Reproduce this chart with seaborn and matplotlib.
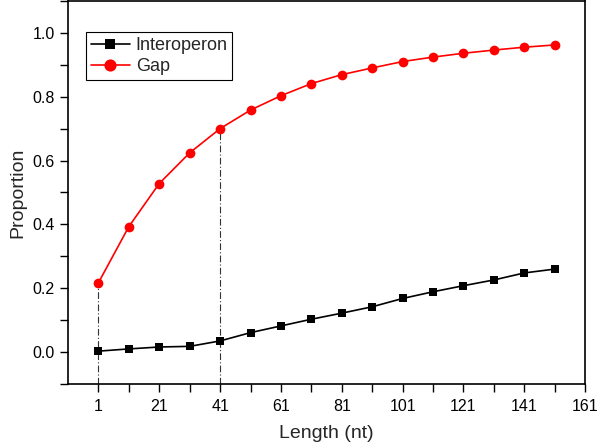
import numpy as np
import pandas as pd
import seaborn as sns
import matplotlib.pyplot as plt
from matplotlib.ticker import MultipleLocator, FixedLocator

length = [1, 11, 21, 31, 41, 51, 61, 71, 81, 91, 101, 111, 121, 131, 141, 151]
interoperon = [0.003, 0.010, 0.016, 0.018, 0.035, 0.061, 0.082, 0.103, 0.122,
               0.142, 0.168, 0.189, 0.208, 0.226, 0.248, 0.260]
gap = [0.217, 0.393, 0.528, 0.624, 0.700, 0.758, 0.803, 0.841, 0.869,
       0.890, 0.910, 0.924, 0.936, 0.946, 0.955, 0.962]
guide_x = [1, 41]
guide_top = [gap[0], gap[4]]

sns.set_style("ticks")
plt.rcParams['font.family'] = ['Liberation Sans', 'DejaVu Sans']

df_int = pd.DataFrame({'Length': length, 'Proportion': interoperon})
df_gap = pd.DataFrame({'Length': length, 'Proportion': gap})

fig = plt.figure(figsize=(6, 4.45), dpi=100)
ax = fig.add_axes([0.1133, 0.137, 0.862, 0.861])

ymin = -0.1
ax.vlines(guide_x, ymin, guide_top, colors='#333333', linestyles=(0, (6, 2, 1, 2)),
          linewidth=0.8, zorder=1)

sns.lineplot(data=df_int, x='Length', y='Proportion', ax=ax, color='black',
             marker='s', markersize=6, markeredgewidth=0, linewidth=1.2,
             label='Interoperon', zorder=3)
sns.lineplot(data=df_gap, x='Length', y='Proportion', ax=ax, color='#ff0000',
             marker='o', markersize=7, markeredgewidth=0, linewidth=1.2,
             label='Gap', zorder=3)

ax.set_xlim(-9, 161)
ax.set_ylim(ymin, 1.1)
ax.xaxis.set_major_locator(FixedLocator(list(range(1, 162, 20))))
ax.xaxis.set_minor_locator(FixedLocator(list(range(11, 162, 20))))
ax.yaxis.set_major_locator(MultipleLocator(0.2))
ax.yaxis.set_minor_locator(MultipleLocator(0.1))
ax.yaxis.set_major_formatter(plt.FuncFormatter(lambda v, p: f"{v:.1f}"))
ax.tick_params(which='both', direction='out', length=6, width=1, colors='black',
               labelsize=11.5)
ax.tick_params(axis='x', which='major', pad=5)
for s in ax.spines.values():
    s.set_color('black')
    s.set_linewidth(1.2)

ax.set_xlabel('Length (nt)', fontsize=14, labelpad=8)
ax.set_ylabel('Proportion', fontsize=14)

leg = ax.legend(loc='upper left', bbox_to_anchor=(0.035, 0.918), fontsize=13,
                frameon=True, fancybox=False, edgecolor='black', framealpha=1,
                borderpad=0.25, labelspacing=0.25, handlelength=2.2,
                handletextpad=0.3, borderaxespad=0, markerscale=1.25)
leg.get_frame().set_linewidth(0.8)

fig.savefig('out.png', dpi=100)
